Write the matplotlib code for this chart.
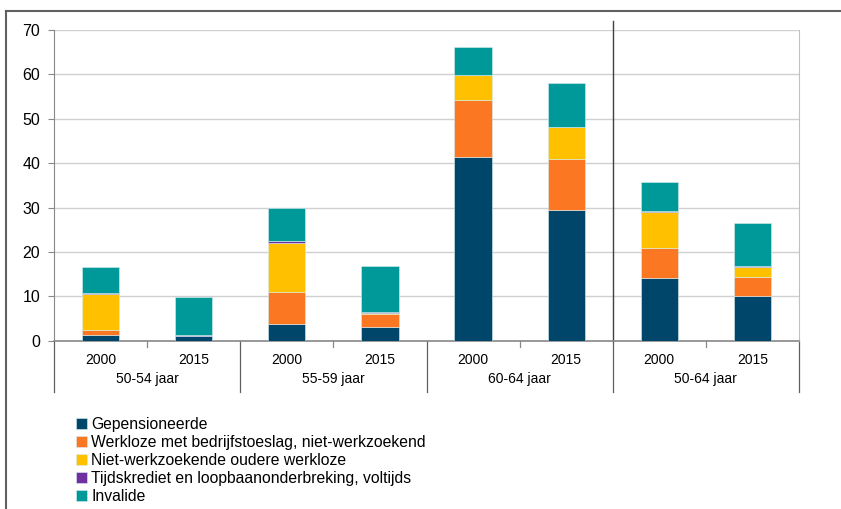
import matplotlib.pyplot as plt
from matplotlib.lines import Line2D
import numpy as np

plt.rcParams['font.family'] = ['Liberation Sans', 'DejaVu Sans']

years = ["2000", "2015", "2000", "2015", "2000", "2015", "2000", "2015"]
groups = ["50-54 jaar", "55-59 jaar", "60-64 jaar", "50-64 jaar"]

series_names = [
    "Gepensioneerde",
    "Werkloze met bedrijfstoeslag, niet-werkzoekend",
    "Niet-werkzoekende oudere werkloze",
    "Tijdskrediet en loopbaanonderbreking, voltijds",
    "Invalide",
]
gepensioneerde = [1.3, 1.0, 3.7, 3.1, 41.4, 29.4, 14.2, 10.1]
werkloze_bt = [1.2, 0.1, 7.2, 2.9, 12.9, 11.6, 6.7, 4.3]
oudere_werkloze = [8.1, 0.0, 11.2, 0.3, 5.5, 7.1, 8.2, 2.3]
tijdskrediet = [0.2, 0.1, 0.4, 0.1, 0.1, 0.1, 0.2, 0.1]
invalide = [5.7, 8.6, 7.4, 10.5, 6.3, 9.8, 6.4, 9.8]

colors = ["#00466B", "#FB7722", "#FFC000", "#7030A0", "#009999"]

W, H = 841, 509
fig = plt.figure(figsize=(W / 100, H / 100), dpi=100)
ax = fig.add_axes([54 / W, 1 - 340.7 / H, 745 / W, 310.7 / H])

x = np.arange(len(years))
bottom = np.zeros(len(years))
data = [gepensioneerde, werkloze_bt, oudere_werkloze, tijdskrediet, invalide]
handles = []
for vals, col, name in zip(data, colors, series_names):
    b = ax.bar(x, vals, 0.4, bottom=bottom, color=col, edgecolor="#d8eef0",
               linewidth=0.4, label=name, zorder=3)
    handles.append(b)
    bottom += np.array(vals)

ax.set_xlim(-0.5, 7.5)
ax.set_ylim(0, 70)
ax.set_yticks(range(0, 71, 10))
ax.tick_params(axis="y", labelsize=11.5, length=4, color="#888888", pad=6)
ax.set_xticks([])
ax.yaxis.grid(True, color="#d0d0d0", linewidth=1, zorder=0)
ax.spines["top"].set_visible(False)
ax.spines["right"].set_color("#c0c0c0")
ax.spines["left"].set_color("#888888")
ax.spines["bottom"].set_color("#888888")
ax.spines["bottom"].set_linewidth(1.2)

trans = ax.get_xaxis_transform()
for i, yr in enumerate(years):
    ax.text(i, -0.062, yr, transform=trans, ha="center", va="center", fontsize=10)
for g, name in enumerate(groups):
    ax.text(2 * g + 0.5, -0.122, name, transform=trans, ha="center", va="center", fontsize=10)
# separators under the axis
for xb in [-0.5, 1.5, 3.5, 5.5, 7.5]:
    ax.plot([xb, xb], [0, -0.165], transform=trans, color="#606060", lw=0.9, clip_on=False)
for xb in [0.5, 2.5, 4.5, 6.5]:
    ax.plot([xb, xb], [0, -0.02], transform=trans, color="#888888", lw=0.9, clip_on=False)
# long line before last group
ax.plot([5.5, 5.5], [0, 1.03], transform=trans, color="#404040", lw=1.0, clip_on=False)

leg = fig.legend(handles=handles, loc="upper left", bbox_to_anchor=(70 / W, 1 - 411 / H),
                 frameon=False, fontsize=11.3, handlelength=0.7, handleheight=0.7,
                 handletextpad=0.25, labelspacing=0.19, borderaxespad=0)

# outer border (left and top visible)
fig.add_artist(Line2D([6 / W, 6 / W], [0, 1 - 11 / H], color="#606060", lw=1.5))
fig.add_artist(Line2D([6 / W, 1], [1 - 11 / H, 1 - 11 / H], color="#606060", lw=1.5))

fig.savefig("out.png", dpi=100)
